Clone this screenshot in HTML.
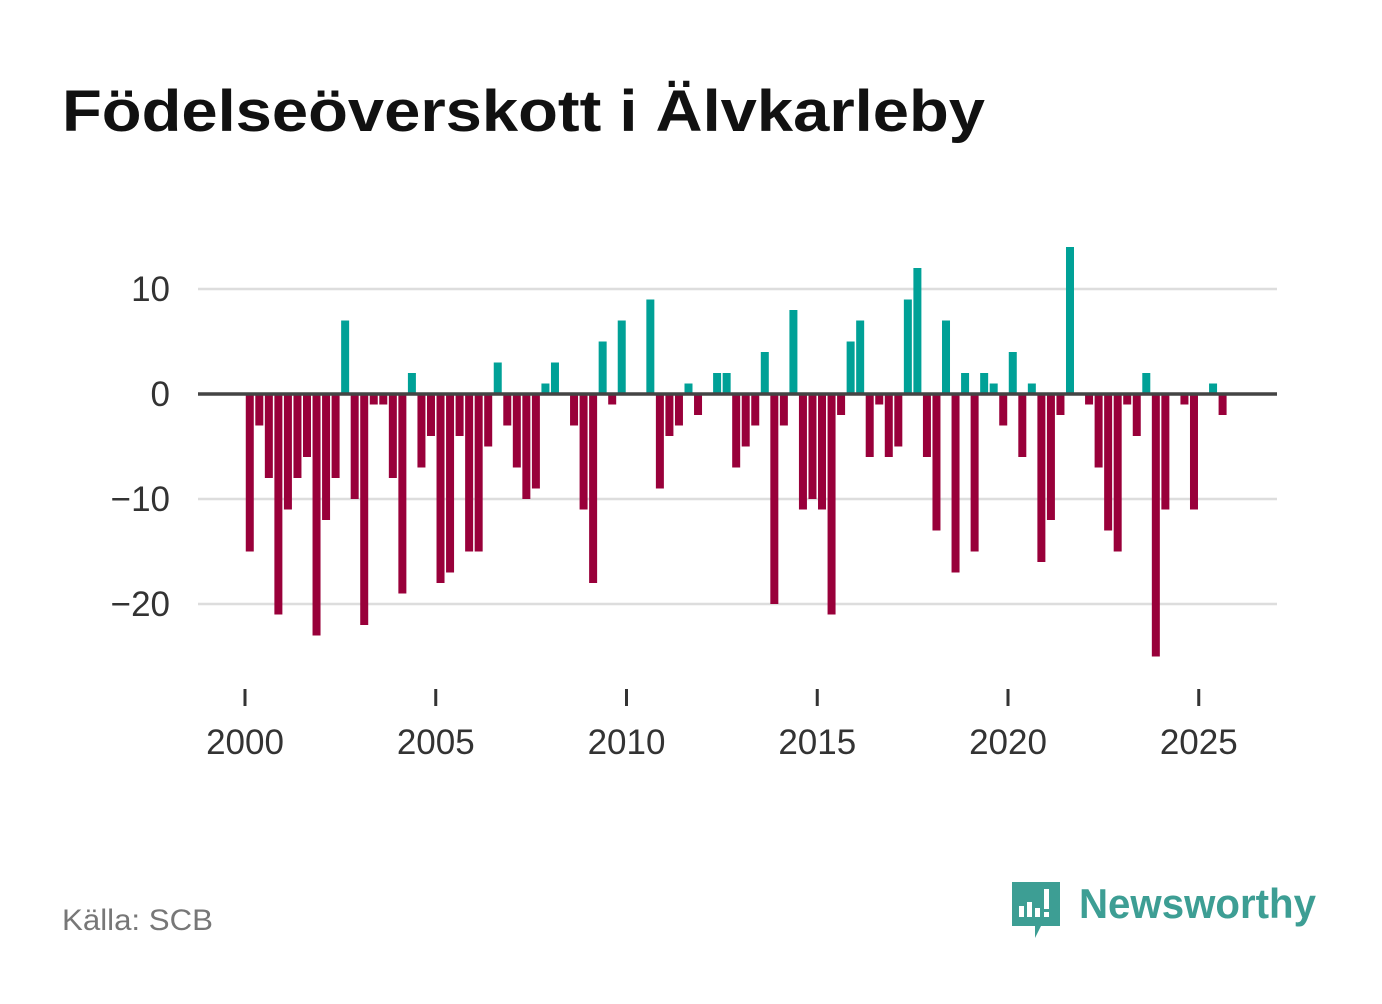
<!DOCTYPE html>
<html><head><meta charset="utf-8"><style>
body{margin:0;background:#fff;width:1382px;height:999px;overflow:hidden;font-family:"Liberation Sans",sans-serif}
</style></head><body>
<svg width="1382" height="999">
<text x="62" y="131" font-size="58" font-weight="bold" fill="#111" textLength="923" lengthAdjust="spacingAndGlyphs">Födelseöverskott i Älvkarleby</text>
<g id="grid"></g><g id="bars"></g><g id="xaxis"></g>
<text x="62" y="930" font-size="30" fill="#777" textLength="151" lengthAdjust="spacingAndGlyphs">Källa: SCB</text>
<g>
<path d="M1012 882h48v44h-19l-6 12v-12h-23z" fill="#3d9e94"/>
<rect x="1019" y="906" width="5" height="11" fill="#fff"/><rect x="1027" y="902" width="5" height="15" fill="#fff"/><rect x="1035" y="908" width="5" height="9" fill="#fff"/><rect x="1044" y="889" width="5" height="20" fill="#fff"/><rect x="1044" y="912" width="5" height="5" fill="#fff"/>
<text x="1079" y="918" font-size="42" font-weight="bold" fill="#3d9e94" textLength="237" lengthAdjust="spacingAndGlyphs">Newsworthy</text>
</g>
</svg>
<script>
const years=[2000,2005,2010,2015,2020,2025];
const yTicks=[10,0,-10,-20];
const values=[-15,-3,-8,-21,-11,-8,-6,-23,-12,-8,7,-10,-22,-1,-1,-8,-19,2,-7,-4,-18,-17,-4,-15,-15,-5,3,-3,-7,-10,-9,1,3,0,-3,-11,-18,5,-1,7,0,0,9,-9,-4,-3,1,-2,0,2,2,-7,-5,-3,4,-20,-3,8,-11,-10,-11,-21,-2,5,7,-6,-1,-6,-5,9,12,-6,-13,7,-17,2,-15,2,1,-3,4,-6,1,-16,-12,-2,14,0,-1,-7,-13,-15,-1,-4,2,-25,-11,0,-1,-11,0,1,-2];
const NS="http://www.w3.org/2000/svg";
const y=v=>394-v*10.5;
const x=t=>245+(t-2000)*38.15;
const g=document.getElementById('grid'),b=document.getElementById('bars'),xa=document.getElementById('xaxis');
function mk(tag,a,p){const e=document.createElementNS(NS,tag);for(const k in a)e.setAttribute(k,a[k]);p.appendChild(e);return e;}
yTicks.forEach(v=>{
 if(v!==0){const l=mk('line',{x1:198,x2:1277,y1:y(v),y2:y(v),stroke:'#ddd','stroke-width':2.5},g);
 
 }
 const t=mk('text',{x:170,y:y(v)+12,'font-size':35,fill:'#333','text-anchor':'end'},g);
 t.textContent=v<0?'\u2212'+(-v):String(v);
 
 
});
values.forEach((v,i)=>{
 const cx=x(2000+(i+0.5)/4);
 const r=mk('rect',{x:cx-4,y:Math.min(y(v),y(0)),width:8,height:Math.abs(y(v)-y(0)),fill:v>=0?'#00a197':'#99003a'},b);
 
 
});
const z=mk('line',{x1:198,x2:1277,y1:y(0),y2:y(0),stroke:'#444','stroke-width':3.5},b);


years.forEach(yr=>{
 const tk=mk('line',{x1:x(yr),x2:x(yr),y1:689,y2:706,stroke:'#333','stroke-width':3},xa);
 
 
 const t=mk('text',{x:x(yr),y:754,'font-size':35,fill:'#333','text-anchor':'middle'},xa);
 t.textContent=yr;
 
 
});
</script>
</body></html>
